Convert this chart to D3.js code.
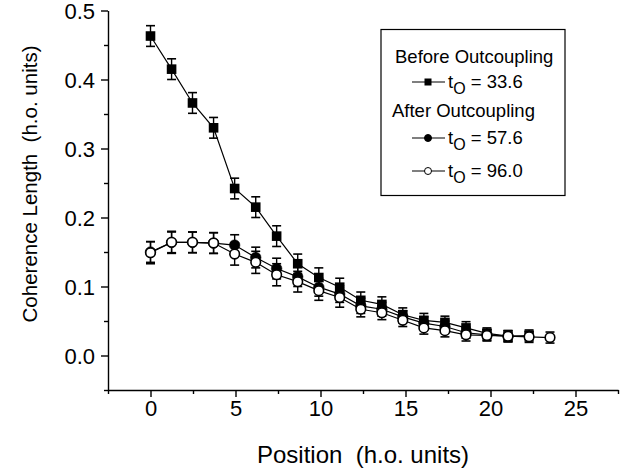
<!DOCTYPE html>
<html><head><meta charset="utf-8">
<script src="https://cdn.jsdelivr.net/npm/d3@7"></script>
<style>
html,body{margin:0;padding:0;background:#fff;}
svg text{font-family:"Liberation Sans",Arial,Helvetica,sans-serif;fill:#000;}
</style></head>
<body>
<svg id="chart" width="633" height="475"></svg>
<script>
// ---- data ----
const positions = [0, 1.24, 2.47, 3.71, 4.95, 6.19, 7.42, 8.66, 9.9, 11.13, 12.37, 13.61, 14.84, 16.08, 17.32, 18.56, 19.79, 21.03, 22.27, 23.5];
const before336 = [0.463, 0.415, 0.366, 0.330, 0.242, 0.215, 0.173, 0.133, 0.113, 0.099, 0.080, 0.074, 0.059, 0.051, 0.048, 0.040, 0.032, 0.028, 0.029];
const err336    = [0.015, 0.015, 0.015, 0.015, 0.015, 0.015, 0.015, 0.014, 0.014, 0.013, 0.012, 0.011, 0.010, 0.010, 0.009, 0.009, 0.008, 0.008, 0.008];
const after576  = [0.150, 0.164, 0.164, 0.163, 0.160, 0.142, 0.126, 0.114, 0.099, 0.089, 0.072, 0.067, 0.056, 0.047, 0.042, 0.033, 0.030, 0.028];
const err576    = [0.015, 0.015, 0.015, 0.015, 0.015, 0.015, 0.015, 0.014, 0.013, 0.012, 0.011, 0.010, 0.009, 0.009, 0.008, 0.008, 0.008, 0.008];
const after960  = [0.149, 0.164, 0.164, 0.163, 0.147, 0.135, 0.117, 0.107, 0.094, 0.084, 0.067, 0.062, 0.051, 0.040, 0.036, 0.030, 0.029, 0.028, 0.027, 0.026];
const err960    = [0.016, 0.016, 0.015, 0.015, 0.016, 0.016, 0.016, 0.015, 0.014, 0.014, 0.011, 0.010, 0.009, 0.009, 0.009, 0.009, 0.008, 0.008, 0.008, 0.008];
const xTicks = [0, 5, 10, 15, 20, 25];
const xMinor = [-2.5, 2.5, 7.5, 12.5, 17.5, 22.5, 27.5];
const yTicks = [0.0, 0.1, 0.2, 0.3, 0.4, 0.5];
const yMinor = [-0.05, 0.05, 0.15, 0.25, 0.35, 0.45];
const legendTitles = ["Before Outcoupling", "After Outcoupling"];
const legendLabels = ["33.6", "57.6", "96.0"];

// ---- chart ----
const svg = d3.select("#chart");
const x = d3.scaleLinear().domain([-2.5, 27.5]).range([108, 618]);
const y = d3.scaleLinear().domain([-0.05, 0.5]).range([390, 10.5]);

const axStroke = 1.4;
const tickFont = 22;
// minor ticks
svg.append("g").attr("transform", "translate(0,390)")
  .call(d3.axisBottom(x).tickValues(xMinor).tickSize(4).tickSizeOuter(0).tickFormat(""))
  .call(g => g.select(".domain").remove());
svg.append("g").attr("transform", "translate(108,0)")
  .call(d3.axisLeft(y).tickValues(yMinor).tickSize(4).tickSizeOuter(0).tickFormat(""))
  .call(g => g.select(".domain").remove());
// major
const gx = svg.append("g").attr("transform", "translate(0,390)")
  .call(d3.axisBottom(x).tickValues(xTicks).tickSize(7).tickSizeOuter(0).tickPadding(3).tickFormat(d3.format("d")));
const gy = svg.append("g").attr("transform", "translate(108,0)")
  .call(d3.axisLeft(y).tickValues(yTicks).tickSize(7).tickSizeOuter(0).tickPadding(6).tickFormat(d3.format(".1f")));
svg.selectAll(".tick line, .domain").attr("stroke", "#000").attr("stroke-width", axStroke);
gx.selectAll("text").attr("font-size", tickFont).attr("font-family", "Liberation Sans, Arial, sans-serif");
gy.selectAll("text").attr("font-size", tickFont).attr("font-family", "Liberation Sans, Arial, sans-serif").attr("dy", "0.36em");

// titles
svg.append("text").attr("x", 363).attr("y", 463).attr("text-anchor", "middle")
  .attr("font-size", 24).style("white-space", "pre")
  .text("Position  (h.o. units)");
svg.append("text").attr("transform", "translate(37,184) rotate(-90)").attr("text-anchor", "middle")
  .attr("font-size", 20.5).style("white-space", "pre")
  .text("Coherence Length  (h.o. units)");

// series
function drawSeries(vals, errs, type) {
  const pts = vals.map((v, i) => ({x: positions[i], v: v, e: errs[i]}));
  const g = svg.append("g");
  g.append("path").datum(pts)
    .attr("d", d3.line().x(d => x(d.x)).y(d => y(d.v)))
    .attr("fill", "none").attr("stroke", "#000").attr("stroke-width", 1.2);
  const eb = g.selectAll("g.eb").data(pts).enter().append("g");
  eb.append("line").attr("x1", d => x(d.x)).attr("x2", d => x(d.x))
    .attr("y1", d => y(d.v + d.e)).attr("y2", d => y(d.v - d.e))
    .attr("stroke", "#000").attr("stroke-width", 1.4);
  [1, -1].forEach(s => {
    eb.append("line").attr("x1", d => x(d.x) - 4.5).attr("x2", d => x(d.x) + 4.5)
      .attr("y1", d => y(d.v + s * d.e)).attr("y2", d => y(d.v + s * d.e))
      .attr("stroke", "#000").attr("stroke-width", 1.6);
  });
  if (type === "square") {
    g.selectAll("rect").data(pts).enter().append("rect")
      .attr("x", d => x(d.x) - 4.8).attr("y", d => y(d.v) - 4.8)
      .attr("width", 9.6).attr("height", 9.6).attr("fill", "#000");
  } else {
    g.selectAll("circle").data(pts).enter().append("circle")
      .attr("cx", d => x(d.x)).attr("cy", d => y(d.v))
      .attr("r", type === "filled" ? 5.3 : 4.8)
      .attr("fill", type === "filled" ? "#000" : "#fff")
      .attr("stroke", "#000").attr("stroke-width", type === "filled" ? 0.5 : 1.6);
  }
}
drawSeries(before336, err336, "square");
drawSeries(after576, err576, "filled");
drawSeries(after960, err960, "open");

// legend
const lg = svg.append("g");
lg.append("rect").attr("x", 381).attr("y", 29.5).attr("width", 184).attr("height", 166)
  .attr("fill", "#fff").attr("stroke", "#000").attr("stroke-width", 1.2);
const fs = 18.5;
lg.append("text").attr("x", 395).attr("y", 63).attr("font-size", fs).text(legendTitles[0]);
lg.append("text").attr("x", 392).attr("y", 117).attr("font-size", fs).text(legendTitles[1]);
const rows = [{y: 88, type: "square", lab: legendLabels[0]},
              {y: 144, type: "filled", lab: legendLabels[1]},
              {y: 177, type: "open", lab: legendLabels[2]}];
rows.forEach(r => {
  const cy = r.y - 6;
  lg.append("line").attr("x1", 412).attr("x2", 445).attr("y1", cy).attr("y2", cy)
    .attr("stroke", "#000").attr("stroke-width", 1.2);
  if (r.type === "square") {
    lg.append("rect").attr("x", 424.5).attr("y", cy - 3.5).attr("width", 7).attr("height", 7).attr("fill", "#000");
  } else {
    lg.append("circle").attr("cx", 428).attr("cy", cy).attr("r", 3.5)
      .attr("fill", r.type === "filled" ? "#000" : "#fff").attr("stroke", "#000").attr("stroke-width", 1);
  }
  const t = lg.append("text").attr("x", 448).attr("y", r.y).attr("font-size", fs);
  t.append("tspan").text("t");
  t.append("tspan").attr("dy", 6).attr("font-size", 16).text("O");
  t.append("tspan").attr("dy", -6).text(" = " + r.lab);
});
</script>
</body></html>
